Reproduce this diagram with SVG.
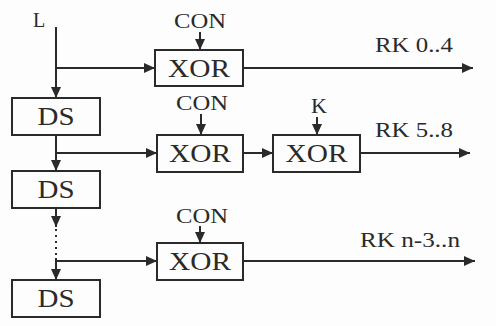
<svg xmlns="http://www.w3.org/2000/svg" width="496" height="326" viewBox="0 0 496 326">
<style>
.box{fill:none;stroke:#2a2a2a;stroke-width:2}
.ln{fill:none;stroke:#2a2a2a;stroke-width:2}
.ar{marker-end:url(#ah)}
.dot{stroke-dasharray:2 4}
text{font-family:"Liberation Serif","DejaVu Serif",serif;fill:#2a2a2a}
.big{font-size:25px}
.sm{font-size:20px}
</style>
<defs>
<marker id="ah" markerUnits="userSpaceOnUse" markerWidth="11" markerHeight="10" refX="11" refY="5" orient="auto">
<path d="M0,0 L11,5 L0,10 z" fill="#2a2a2a"/>
</marker>
</defs>
<rect width="496" height="326" fill="#fdfdfd"/>
<g id="connectors">
<path class="ln ar" d="M56,27 V98"/>
<path class="ln ar" d="M56,68 H155"/>
<path class="ln ar" d="M243,68 H473"/>
<path class="ln ar" d="M200,32 V50"/>
<path class="ln ar" d="M56,135 V171"/>
<path class="ln ar" d="M56,153 H157"/>
<path class="ln ar" d="M201,114 V135"/>
<path class="ln ar" d="M243,153 H273"/>
<path class="ln ar" d="M317,117 V135"/>
<path class="ln ar" d="M360,153 H470"/>
<path class="ln ar" d="M56,208 V227"/>
<path class="ln dot" d="M56,229 V258"/>
<path class="ln ar" d="M56,258 V280"/>
<path class="ln ar" d="M56,261 H157"/>
<path class="ln ar" d="M200,226 V243"/>
<path class="ln ar" d="M243,261 H475"/>
</g>
<g id="L"><text class="sm" x="33" y="27">L</text></g>
<g id="con1"><text class="sm" x="200" y="28" text-anchor="middle" textLength="52" lengthAdjust="spacingAndGlyphs">CON</text></g>
<g id="xor1"><rect class="box" x="155" y="50" width="88" height="36"/><text class="big" x="199" y="77" text-anchor="middle" textLength="62" lengthAdjust="spacingAndGlyphs">XOR</text></g>
<g id="rk1"><text class="sm" x="375" y="52" textLength="78" lengthAdjust="spacingAndGlyphs">RK 0..4</text></g>
<g id="ds1"><rect class="box" x="12" y="98" width="88" height="37"/><text class="big" x="56" y="125" text-anchor="middle" textLength="37" lengthAdjust="spacingAndGlyphs">DS</text></g>
<g id="con2"><text class="sm" x="202" y="110" text-anchor="middle" textLength="52" lengthAdjust="spacingAndGlyphs">CON</text></g>
<g id="xor2"><rect class="box" x="157" y="135" width="86" height="37"/><text class="big" x="200" y="162" text-anchor="middle" textLength="62" lengthAdjust="spacingAndGlyphs">XOR</text></g>
<g id="k"><text class="sm" x="319" y="113" text-anchor="middle" textLength="16" lengthAdjust="spacingAndGlyphs">K</text></g>
<g id="xor4"><rect class="box" x="273" y="135" width="87" height="37"/><text class="big" x="316.5" y="162" text-anchor="middle" textLength="62" lengthAdjust="spacingAndGlyphs">XOR</text></g>
<g id="rk2"><text class="sm" x="375" y="137" textLength="78" lengthAdjust="spacingAndGlyphs">RK 5..8</text></g>
<g id="ds2"><rect class="box" x="12" y="171" width="88" height="37"/><text class="big" x="56" y="198" text-anchor="middle" textLength="37" lengthAdjust="spacingAndGlyphs">DS</text></g>
<g id="con3"><text class="sm" x="202" y="223" text-anchor="middle" textLength="52" lengthAdjust="spacingAndGlyphs">CON</text></g>
<g id="xor3"><rect class="box" x="157" y="243" width="86" height="37"/><text class="big" x="200" y="270" text-anchor="middle" textLength="62" lengthAdjust="spacingAndGlyphs">XOR</text></g>
<g id="rk3"><text class="sm" x="360" y="247" textLength="100" lengthAdjust="spacingAndGlyphs">RK n-3..n</text></g>
<g id="ds3"><rect class="box" x="12" y="280" width="88" height="37"/><text class="big" x="56" y="307" text-anchor="middle" textLength="37" lengthAdjust="spacingAndGlyphs">DS</text></g>
</svg>
